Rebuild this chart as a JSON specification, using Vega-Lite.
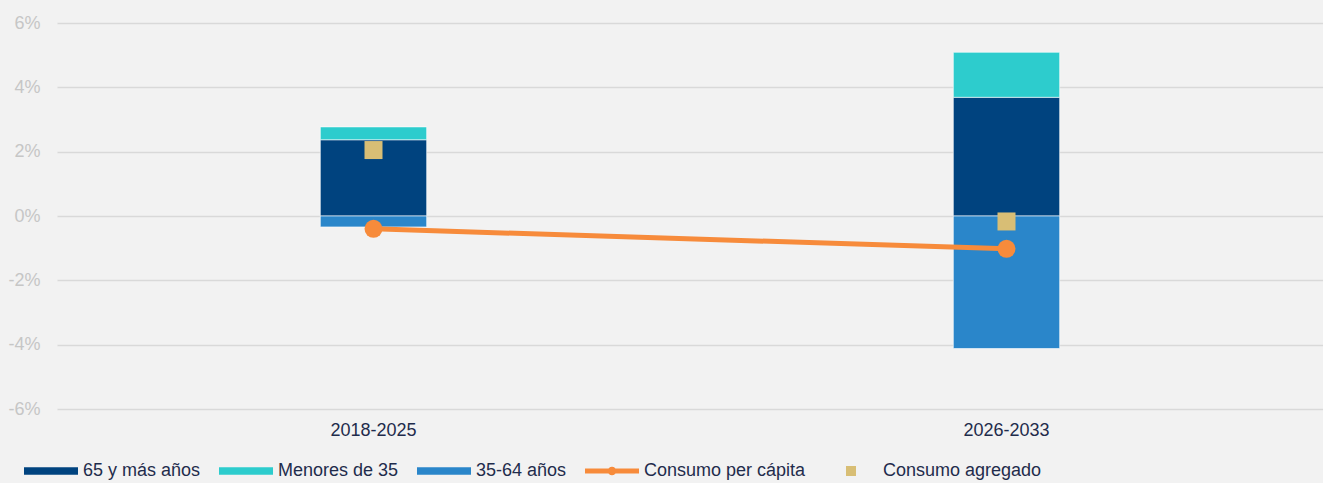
{
  "$schema": "https://vega.github.io/schema/vega-lite/v6.json",
  "width": 1266,
  "height": 386,
  "autosize": {"type": "none"},
  "padding": {"left": 57, "top": 23, "right": 0, "bottom": 74},
  "background": "#f2f2f2",
  "config": {
    "view": {"stroke": null, "fill": "#f2f2f2"},
    "font": "Liberation Sans"
  },
  "data": {
    "values": [
      {"periodo": "2018-2025", "serie": "65 y más años", "valor": 2.37, "orden": 1},
      {"periodo": "2018-2025", "serie": "Menores de 35", "valor": 0.40, "orden": 2},
      {"periodo": "2018-2025", "serie": "35-64 años", "valor": -0.34, "orden": 3},
      {"periodo": "2018-2025", "serie": "Consumo per cápita", "valor": -0.40, "orden": 4},
      {"periodo": "2018-2025", "serie": "Consumo agregado", "valor": 2.05, "orden": 5},
      {"periodo": "2026-2033", "serie": "65 y más años", "valor": 3.69, "orden": 1},
      {"periodo": "2026-2033", "serie": "Menores de 35", "valor": 1.40, "orden": 2},
      {"periodo": "2026-2033", "serie": "35-64 años", "valor": -4.12, "orden": 3},
      {"periodo": "2026-2033", "serie": "Consumo per cápita", "valor": -1.02, "orden": 4},
      {"periodo": "2026-2033", "serie": "Consumo agregado", "valor": -0.17, "orden": 5}
    ]
  },
  "encoding": {
    "x": {
      "field": "periodo",
      "type": "nominal",
      "scale": {"paddingInner": 0, "paddingOuter": 0},
      "axis": {
        "title": null,
        "labelAngle": 0,
        "labelFontSize": 18,
        "labelColor": "#1f2c4c",
        "labelPadding": 12,
        "domain": false,
        "ticks": false
      }
    },
    "y": {
      "field": "valor",
      "type": "quantitative",
      "scale": {"domain": [-6, 6], "nice": false, "zero": false},
      "axis": {
        "title": null,
        "values": [-6, -4, -2, 0, 2, 4, 6],
        "labelExpr": "datum.value + '%'",
        "labelFontSize": 18,
        "labelColor": "#c6c6c6",
        "labelPadding": 17,
        "ticks": false,
        "domain": false,
        "gridColor": "#d9d9d9",
        "gridWidth": 1.5
      }
    },
    "color": {
      "field": "serie",
      "type": "nominal",
      "scale": {
        "domain": ["65 y más años", "Menores de 35", "35-64 años", "Consumo per cápita", "Consumo agregado"],
        "range": ["#00437f", "#2dcccd", "#2a86ca", "#f78b3b", "#d8be75"]
      },
      "legend": {
        "title": null,
        "orient": "none",
        "legendX": -33,
        "legendY": 421,
        "direction": "horizontal",
        "symbolSize": 2916,
        "labelFontSize": 18,
        "labelLimit": 400,
        "labelColor": "#1f2c4c",
        "labelOffset": 5,
        "columnPadding": 18,
        "symbolStrokeWidth": 0,
        "encode": {
          "symbols": {
            "update": {
              "shape": {"signal": "datum.value === 'Consumo agregado' ? 'square' : (datum.value === 'Consumo per cápita' ? 'M-1,-0.095L1,-0.095L1,0.095L-1,0.095Z M-0.16,0A0.16,0.16 0 1,1 0.16,0A0.16,0.16 0 1,1 -0.16,0Z' : 'M-1,-0.135L1,-0.135L1,0.135L-1,0.135Z')"},
              "size": {"signal": "datum.value === 'Consumo agregado' ? 100 : 2916"},
              "fill": {"signal": "scale('color', datum.value)"},
              "stroke": {"value": "transparent"},
              "strokeWidth": {"value": 0},
              "opacity": {"value": 1}
            }
          }
        }
      }
    }
  },
  "layer": [
    {
      "transform": [{"filter": "datum.orden <= 3"}],
      "mark": {"type": "bar", "width": {"band": 0.168}, "stroke": "#ffffff", "strokeWidth": 1, "strokeOpacity": 0.6},
      "encoding": {
        "order": {"field": "orden", "type": "quantitative"}
      }
    },
    {
      "transform": [{"filter": "datum.orden == 4"}],
      "mark": {"type": "line", "strokeWidth": 5, "point": {"size": 324, "filled": true, "opacity": 1}},
      "encoding": {}
    },
    {
      "transform": [{"filter": "datum.orden == 5"}],
      "mark": {"type": "point", "shape": "square", "filled": true, "size": 324, "opacity": 1},
      "encoding": {}
    }
  ]
}
